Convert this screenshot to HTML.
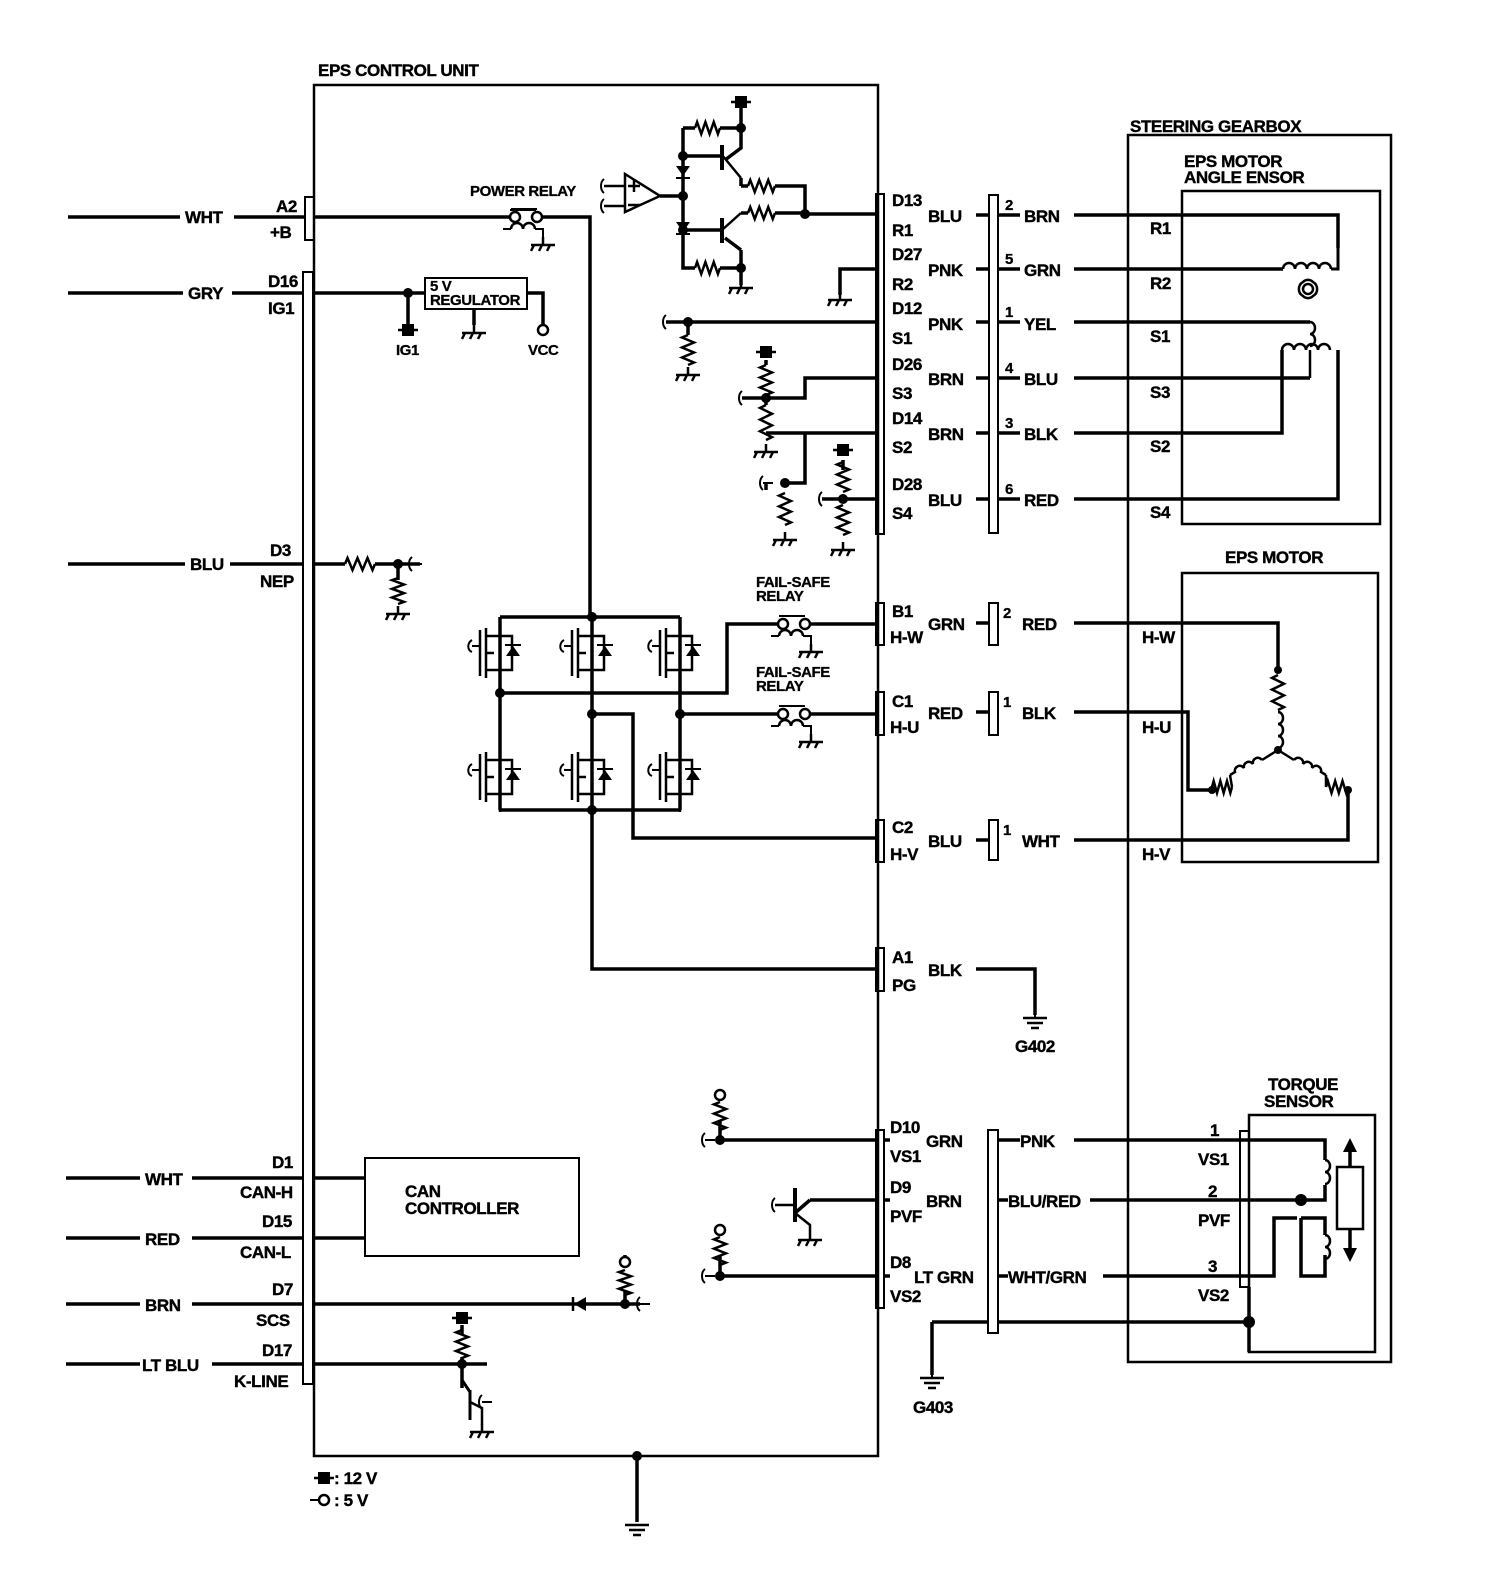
<!DOCTYPE html>
<html><head><meta charset="utf-8"><style>
html,body{margin:0;padding:0;background:#fff;}
svg{display:block;}
text{font-family:"Liberation Sans",sans-serif;font-weight:bold;font-size:17px;fill:#000;stroke:#000;stroke-width:0.4;letter-spacing:-0.4px;}
text[font-size]{font-size:15px;stroke-width:0.3;}
</style></head><body>
<svg id="s" width="1504" height="1572" viewBox="0 0 1504 1572" xmlns="http://www.w3.org/2000/svg">
<g fill="none" stroke="#000" stroke-width="3.5" id="g">
<rect x="314" y="85" width="564" height="1371" stroke-width="2.5"/>
<rect x="1128" y="135" width="263" height="1227" stroke-width="2.5"/>
<rect x="1182" y="191" width="198" height="333" stroke-width="2.5"/>
<rect x="1182" y="573" width="196" height="289" stroke-width="2.5"/>
<rect x="1249" y="1115" width="126" height="237" stroke-width="2.5"/>
<rect x="365" y="1158" width="214" height="98" stroke-width="2"/>
<rect x="425" y="278" width="102" height="31" stroke-width="2"/>
<rect x="305" y="197" width="9" height="43" stroke-width="2"/>
<rect x="303" y="272" width="10" height="1112" stroke-width="2"/>
<rect x="876" y="194" width="8" height="340" stroke-width="2"/>
<rect x="876" y="603" width="8" height="42" stroke-width="2"/>
<rect x="876" y="692" width="8" height="43" stroke-width="2"/>
<rect x="876" y="820" width="8" height="42" stroke-width="2"/>
<rect x="876" y="948" width="8" height="43" stroke-width="2"/>
<rect x="876" y="1130" width="8" height="178" stroke-width="2"/>
<rect x="989" y="195" width="9" height="338" stroke-width="2"/>
<rect x="989" y="603" width="9" height="42" stroke-width="2"/>
<rect x="989" y="692" width="9" height="43" stroke-width="2"/>
<rect x="989" y="820" width="9" height="40" stroke-width="2"/>
<rect x="988" y="1130" width="10" height="203" stroke-width="2"/>
<rect x="1240" y="1131" width="9" height="156" stroke-width="2"/>

<path d="M68 217H180M234 217H305M68 293H183M232 293H303M68 564H185M230 564H303"/>
<path d="M66 1178H140M192 1178H303M66 1238H140M192 1238H303M66 1304H140M192 1304H303M66 1364H140M212 1364H303"/>
<path d="M313 1178H365M313 1238H365"/>
<path d="M314 217H510M538 217H590V617"/>
<path d="M510 210h26" stroke-width="2"/>
<path d="M313 293H425M408 293V330M527 293H543V325M474 309V325"/>
<path d="M313 564H345M375 564H420M398 564V580"/>
<path d="M313 1304H640M625 1304V1290"/>
<path d="M625 1262V1255"/>
<path d="M313 1364H487M462 1364V1380M462 1380l0 8M462 1325V1335M462 1357V1364"/>
<path d="M637 1456V1522"/>
<path d="M500 617H680M500 810H680M500 617V810M592 617V810M680 617V810"/>
<path d="M500 693H727V624H777M805 624H876"/>
<path d="M680 714H777M805 714H876"/>
<path d="M592 714H633V838H876"/>
<path d="M592 810V969H876"/>
<path d="M683 128H695M720 128H741V102M741 128V148L725 160M683 128V230M683 156H722M683 196H660M683 230H722M741 178L741 186M741 186h7m27 0h30V214M805 214H876"/>
<path d="M683 230V268H695M720 268H741V285M741 250L725 238M741 250V268M741 213h7M775 213h30"/>
<path d="M876 269H840V295"/>
<path d="M666 322H876M688 322V335"/>
<path d="M742 398H805V378H876M766 360V365M766 433H805V483H785M805 433H876M766 398V405"/>
<path d="M766 483V490M843 499H876M822 499H843M843 460V470"/>
<path d="M976 215H989M976 269H989M976 322H989M976 378H989M976 433H989M976 499H989M976 623H989M976 712H989M976 840H989"/>
<path d="M998 215H1020M998 269H1020M998 322H1020M998 378H1020M998 433H1020M998 499H1020"/>
<path d="M1074 215H1338V248M1074 269H1283M1074 322H1310M1074 378H1310M1074 433H1282V350M1074 499H1338V350"/>
<path d="M1074 623H1278V670M1074 712H1188V790H1212M1074 840H1348V790"/>
<path d="M976 969H1035V1015"/>
<path d="M884 1140H890M884 1200H890M884 1276H890M998 1140H1020M998 1200H1008M998 1276H1008"/>
<path d="M1074 1140H1325V1160M1090 1200H1325V1185M1103 1276H1274V1218H1297M1301 1218H1325V1235M1325 1255V1276H1301V1218"/>
<path d="M998 1322H1249V1287M1249 1322V1352M932 1322H988M932 1322V1375"/>
<path d="M720 1140H876M720 1276H876M720 1120V1140M720 1255V1276M810 1200H876M810 1200L795 1213"/>
<rect x="1337" y="1167" width="26" height="62" stroke-width="2.5"/>
<path d="M1350 1167V1145M1350 1229V1250"/>
</g>
<g id="f" fill="#000"></g>
<text x="318" y="76">EPS CONTROL UNIT</text>
<text x="1130" y="132">STEERING GEARBOX</text>
<text x="1184" y="167">EPS MOTOR</text>
<text x="1184" y="183">ANGLE ENSOR</text>
<text x="1225" y="563">EPS MOTOR</text>
<text x="1268" y="1090">TORQUE</text>
<text x="1264" y="1107">SENSOR</text>
<text x="470" y="196" font-size="13">POWER RELAY</text>
<text x="756" y="587" font-size="13">FAIL-SAFE</text>
<text x="756" y="601" font-size="13">RELAY</text>
<text x="756" y="677" font-size="13">FAIL-SAFE</text>
<text x="756" y="691" font-size="13">RELAY</text>
<text x="430" y="291" font-size="12">5 V</text>
<text x="430" y="305" font-size="13">REGULATOR</text>
<text x="396" y="355" font-size="13">IG1</text>
<text x="528" y="355" font-size="13">VCC</text>
<text x="405" y="1197">CAN</text>
<text x="405" y="1214">CONTROLLER</text>
<text x="185" y="223">WHT</text><text x="276" y="212">A2</text><text x="270" y="238">+B</text>
<text x="188" y="299">GRY</text><text x="268" y="287">D16</text><text x="268" y="314">IG1</text>
<text x="190" y="570">BLU</text><text x="270" y="556">D3</text><text x="260" y="587">NEP</text>
<text x="145" y="1185">WHT</text><text x="272" y="1168">D1</text><text x="240" y="1198">CAN-H</text>
<text x="145" y="1245">RED</text><text x="262" y="1227">D15</text><text x="240" y="1258">CAN-L</text>
<text x="145" y="1311">BRN</text><text x="272" y="1295">D7</text><text x="256" y="1326">SCS</text>
<text x="142" y="1371">LT BLU</text><text x="262" y="1356">D17</text><text x="234" y="1387">K-LINE</text>
<text x="334" y="1484">: 12 V</text><text x="334" y="1506">: 5 V</text>
<text x="892" y="206">D13</text><text x="892" y="236">R1</text><text x="928" y="222">BLU</text>
<text x="892" y="260">D27</text><text x="892" y="290">R2</text><text x="928" y="276">PNK</text>
<text x="892" y="314">D12</text><text x="892" y="344">S1</text><text x="928" y="330">PNK</text>
<text x="892" y="370">D26</text><text x="892" y="399">S3</text><text x="928" y="385">BRN</text>
<text x="892" y="424">D14</text><text x="892" y="453">S2</text><text x="928" y="440">BRN</text>
<text x="892" y="490">D28</text><text x="892" y="519">S4</text><text x="928" y="506">BLU</text>
<text x="892" y="617">B1</text><text x="890" y="643">H-W</text><text x="928" y="630">GRN</text>
<text x="892" y="707">C1</text><text x="890" y="733">H-U</text><text x="928" y="719">RED</text>
<text x="892" y="833">C2</text><text x="890" y="860">H-V</text><text x="928" y="847">BLU</text>
<text x="892" y="963">A1</text><text x="892" y="991">PG</text><text x="928" y="976">BLK</text>
<text x="890" y="1133">D10</text><text x="890" y="1162">VS1</text><text x="926" y="1147">GRN</text>
<text x="890" y="1193">D9</text><text x="890" y="1222">PVF</text><text x="926" y="1207">BRN</text>
<text x="890" y="1268">D8</text><text x="890" y="1302">VS2</text><text x="914" y="1283">LT GRN</text>
<text x="1015" y="1052">G402</text><text x="913" y="1413">G403</text>
<text x="1005" y="210" font-size="13">2</text><text x="1024" y="222">BRN</text>
<text x="1005" y="264" font-size="13">5</text><text x="1024" y="276">GRN</text>
<text x="1005" y="317" font-size="13">1</text><text x="1024" y="330">YEL</text>
<text x="1005" y="373" font-size="13">4</text><text x="1024" y="385">BLU</text>
<text x="1005" y="428" font-size="13">3</text><text x="1024" y="440">BLK</text>
<text x="1005" y="494" font-size="13">6</text><text x="1024" y="506">RED</text>
<text x="1003" y="618" font-size="13">2</text><text x="1022" y="630">RED</text>
<text x="1003" y="707" font-size="13">1</text><text x="1022" y="719">BLK</text>
<text x="1003" y="835" font-size="13">1</text><text x="1022" y="847">WHT</text>
<text x="1020" y="1147">PNK</text><text x="1008" y="1207">BLU/RED</text><text x="1008" y="1283">WHT/GRN</text>
<text x="1150" y="234">R1</text><text x="1150" y="289">R2</text><text x="1150" y="342">S1</text>
<text x="1150" y="398">S3</text><text x="1150" y="452">S2</text><text x="1150" y="518">S4</text>
<text x="1142" y="643">H-W</text><text x="1142" y="733">H-U</text><text x="1142" y="860">H-V</text>
<text x="1210" y="1136">1</text><text x="1198" y="1165">VS1</text>
<text x="1208" y="1197">2</text><text x="1198" y="1226">PVF</text>
<text x="1208" y="1272">3</text><text x="1198" y="1301">VS2</text>
</svg>
<script>
var NS="http://www.w3.org/2000/svg",g=document.getElementById('g'),f=document.getElementById('f');
function P(d,w){var p=document.createElementNS(NS,'path');p.setAttribute('d',d);p.setAttribute('stroke-width',w||3);g.appendChild(p);}
function dot(x,y,r){var c=document.createElementNS(NS,'circle');c.setAttribute('cx',x);c.setAttribute('cy',y);c.setAttribute('r',r||5);f.appendChild(c);}
function ring(x,y){var c=document.createElementNS(NS,'circle');c.setAttribute('cx',x);c.setAttribute('cy',y);c.setAttribute('r',5);c.setAttribute('stroke-width',2.5);c.setAttribute('fill','#fff');g.appendChild(c);}
function sq(x,y){var r=document.createElementNS(NS,'rect');r.setAttribute('x',x-6);r.setAttribute('y',y-6);r.setAttribute('width',12);r.setAttribute('height',12);f.appendChild(r);P('M'+(x-10)+' '+y+'h20',2.5);}
function rh(x1,x2,y){var n=6,d='M'+x1+' '+y,s=(x2-x1)/n;for(var i=0;i<n;i++){d+='L'+(x1+s*(i+.5))+' '+(y+(i%2?6:-6));}d+='L'+x2+' '+y;P(d,2.5);}
function rv(x,y1,y2){var n=6,d='M'+x+' '+y1,s=(y2-y1)/n;for(var i=0;i<n;i++){d+='L'+(x+(i%2?6:-6))+' '+(y1+s*(i+.5));}d+='L'+x+' '+y2;P(d,2.5);}
function gnd(x,y){P('M'+x+' '+(y-8)+'V'+y+'M'+(x-12)+' '+y+'h24M'+(x-9)+' '+y+'l-3 6M'+(x-1)+' '+y+'l-3 6M'+(x+7)+' '+y+'l-3 6',2.5);}
function egnd(x,y){P('M'+(x-12)+' '+y+'h24M'+(x-8)+' '+(y+5)+'h16M'+(x-4)+' '+(y+10)+'h8',2.5);}
function hook(x,y){P('M'+x+' '+y+'h10M'+x+' '+(y-7)+'c-4 3 -4 11 0 14',2);}
function coilh(x1,y,n,up){var d='M'+x1+' '+y;for(var i=0;i<n;i++){d+='a6 6 0 0 '+(up?1:0)+' 12 0';}P(d,2.5);}
function coilv(x,y1,n,r){var d='M'+x+' '+y1;for(var i=0;i<n;i++){d+='a5 6 0 0 '+(r?1:0)+' 0 12';}P(d,2.5);}
rh(345,375,564);dot(398,564);rv(398,578,604);gnd(398,614);hook(412,564);
dot(408,293);sq(408,330);ring(543,330);gnd(474,333);
function relay(x,y){P('M'+(x-4)+' '+(y-8)+'h26',2);ring(x,y);ring(x+22,y);P('M'+(x-12)+' '+(y+12)+'h8',2);coilh(x-4,y+12,2,true);P('M'+(x+20)+' '+(y+12)+'h8v12',2);gnd(x+28,y+28);}
relay(515,217);relay(783,624);relay(783,714);
function fet(x,y){P('M'+(x-20)+' '+(y-18)+'v46M'+(x-14)+' '+(y-20)+'v50M'+(x-14)+' '+(y-12)+'h26v14M'+(x-14)+' '+(y+22)+'h26v-14M'+(x-14)+' '+(y+5)+'h8',2.5);
 P('M'+x+' '+(y-30)+'v18M'+x+' '+(y+22)+'v18',2.5);
 var t=document.createElementNS(NS,'path');t.setAttribute('d','M'+(x+6)+' '+(y+8)+'h14l-7 -10z');f.appendChild(t);P('M'+(x+5)+' '+(y-3)+'h16',2);
 P('M'+(x-28)+' '+(y-8)+'c-5 3 -5 10 0 12M'+(x-28)+' '+(y-2)+'h8',2);}
[500,592,680].forEach(function(x){fet(x,648);fet(x,772);});
dot(592,617);dot(500,693);dot(592,714);dot(680,714);dot(592,810);
sq(741,102);dot(741,128);dot(683,156);dot(683,196);dot(683,230);dot(805,214);dot(741,268);
rh(695,720,128);rh(695,720,268);rh(748,775,186);rh(748,775,213);gnd(741,288);
P('M722 145V170M722 218V243',4);P('M722 155L741 178M722 230L741 213',2.5);
P('M625 174V212L660 196Z M628 186h12M634 180v12M628 205h12 M604 186h21M604 206h21',2.5);hook(604,186);hook(604,206);
var d1=document.createElementNS(NS,'path');d1.setAttribute('d','M676 166h14l-7 10zM676 222h14l-7 10z');f.appendChild(d1);P('M676 178h14M676 234h14',2);
gnd(840,300);
dot(688,322);rv(688,335,365);gnd(688,375);hook(666,322);
sq(766,352);rv(766,365,395);dot(766,398);rv(766,405,440);gnd(766,452);hook(742,398);
dot(785,483);rv(785,493,525);gnd(785,540);hook(763,483);
sq(843,450);rv(843,462,492);dot(843,499);rv(843,505,535);gnd(843,550);hook(822,499);
coilh(1283,269,4,true);P('M1331 269H1338V248',3);
P('M1303 282a7 7 0 0 1 10 0a8 8 0 0 1 0 14a7 7 0 0 1 -10 0a8 8 0 0 1 0 -14z',2.5);ring(1308,289);
coilv(1310,322,2,true);coilh(1282,350,4,true);P('M1310 350V378',2.5);
dot(1278,670,4);rv(1278,675,710);coilv(1278,712,3,true);dot(1278,750,4);
P('M1278 750L1262 760M1278 750L1294 760',2.5);
P('M1262 760a5 5 0 0 0 -9 4a5 5 0 0 0 -9 4a5 5 0 0 0 -9 4L1230 775',2.5);
P('M1294 760a5 5 0 0 1 9 4a5 5 0 0 1 9 4a5 5 0 0 1 9 4L1326 775',2.5);
rh(1212,1232,787);rh(1326,1348,787);P('M1232 787L1230 775M1326 787L1326 775',2.5);
dot(1212,790,4);dot(1348,790,4);
egnd(1035,1018);egnd(932,1378);egnd(637,1525);dot(637,1456);
P('M1035 1015V1018M932 1375V1378',2);
coilv(1325,1160,2,true);coilv(1325,1235,2,true);dot(1301,1200,6);dot(1249,1322,6);
var ar=document.createElementNS(NS,'path');ar.setAttribute('d','M1343 1152l7 -14l7 14zM1343 1248l7 14l7 -14z');f.appendChild(ar);
ring(720,1095);rv(720,1102,1130);dot(720,1140);hook(705,1140);
ring(720,1230);rv(720,1237,1265);dot(720,1276);hook(705,1276);
P('M795 1188V1222',4);P('M795 1205H775M795 1213L810 1225V1232',2.5);gnd(810,1240);hook(775,1205);
ring(625,1262);rv(625,1270,1295);dot(625,1304);hook(640,1304);
var dd=document.createElementNS(NS,'path');dd.setAttribute('d','M586 1297v14l-12 -7z');f.appendChild(dd);P('M573 1297v14',2.5);
sq(462,1318);rv(462,1330,1358);dot(462,1364);P('M462 1380L470 1392M470 1390V1420',3);P('M470 1402L482 1408V1425',2.5);gnd(482,1432);hook(482,1402);
sq(324,1478);ring(324,1500);P('M310 1500h9',2);
</script>
</body></html>
